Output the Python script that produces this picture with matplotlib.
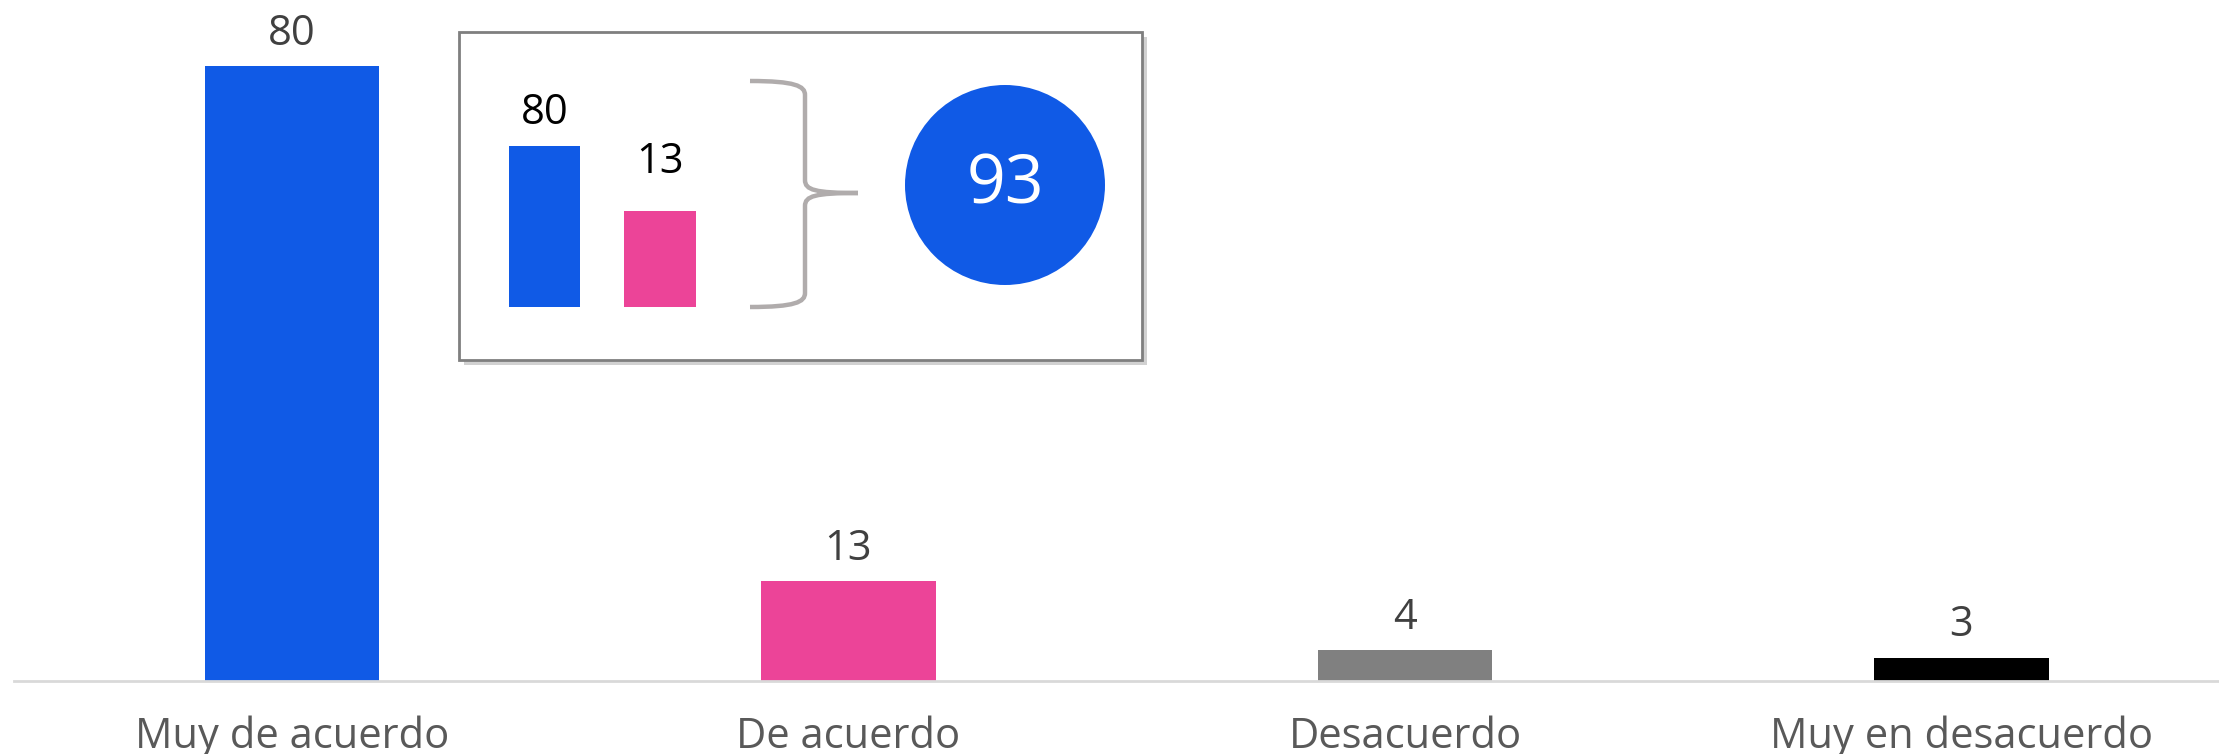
import matplotlib
matplotlib.use("Agg")
import matplotlib.pyplot as plt
from matplotlib.patches import Rectangle, Circle, PathPatch
from matplotlib.path import Path

plt.rcParams['font.family'] = ['Open Sans', 'DejaVu Sans']

# Datos
categorias = ["Muy de acuerdo", "De acuerdo", "Desacuerdo", "Muy en desacuerdo"]
valores = [80, 13, 4, 3]
colores = ["#105ae6", "#ec4498", "#808080", "#000000"]

# recuadro: suma de las dos primeras categorias
inset_valores = valores[:2]
inset_colores = colores[:2]
total_acuerdo = sum(inset_valores)

W, H = 2219, 754
fig = plt.figure(figsize=(W / 100, H / 100), dpi=100)


def px_box(x0, y0, x1, y1):
    # caja en pixeles (y hacia abajo) -> fraccion de figura
    return [x0 / W, 1 - y1 / H, (x1 - x0) / W, (y1 - y0) / H]


# --- grafico principal ---
ax = fig.add_axes(px_box(14, 0, W, 681))
x = range(len(categorias))
ax.bar(x, valores, width=0.313, color=colores, zorder=2)
ax.set_xlim(-0.4996, 3.4627)
ax.set_ylim(0, 88.6)
for s in ["top", "right", "left"]:
    ax.spines[s].set_visible(False)
ax.spines["bottom"].set_color("#d9d9d9")
ax.spines["bottom"].set_linewidth(2)
ax.set_yticks([])
ax.set_xticks([])

for i, v in enumerate(valores):
    ax.annotate(str(v), (i, v), xytext=(0, 15.5), textcoords="offset points",
                ha="center", va="baseline", fontsize=30, color="#404040")
    ax.annotate(categorias[i], (i, 0), xytext=(0, -48), textcoords="offset points",
                ha="center", va="baseline", fontsize=30, color="#595959")

# --- capa para el recuadro, llave y circulo (coordenadas en pixeles) ---
ov = fig.add_axes([0, 0, 1, 1], zorder=1)
ov.set_xlim(0, W)
ov.set_ylim(H, 0)
ov.axis("off")
ov.patch.set_alpha(0)

ov.add_patch(Rectangle((464, 37), 683, 328, facecolor="#9a9a9a", alpha=0.45,
                       edgecolor="none"))
ov.add_patch(Rectangle((459, 32), 683, 328, facecolor="white", edgecolor="#7f7f7f",
                       linewidth=2))

# llave
verts_sup = [(750, 81), (795, 81), (805, 86), (805, 95), (805, 180),
             (805, 190), (815, 193), (858, 193)]
codes = [Path.MOVETO, Path.CURVE4, Path.CURVE4, Path.CURVE4, Path.LINETO,
         Path.CURVE4, Path.CURVE4, Path.CURVE4]
verts_inf = [(858, 193), (815, 193), (805, 196), (805, 206), (805, 293),
             (805, 302), (795, 307), (750, 307)]
for vv in [verts_sup, verts_inf]:
    ov.add_patch(PathPatch(Path(vv, codes), facecolor="none", edgecolor="#b0acac",
                           linewidth=3.2, capstyle="butt"))

ov.add_patch(Circle((1005, 185), 100, facecolor="#105ae6", edgecolor="none"))
ov.text(1005, 186, str(total_acuerdo), ha="center", va="center", fontsize=49,
        color="white")

# barras del recuadro
ax_in = fig.add_axes(px_box(480, 100, 730, 307), zorder=2)
ax_in.bar(range(len(inset_valores)), inset_valores, width=0.615,
          color=inset_colores, bottom=1)
ax_in.set_yscale("log")
ax_in.set_ylim(1, 10 ** (207 / 84.1))
ax_in.set_xlim((480 - 544.5) / 115.5, (730 - 544.5) / 115.5)
ax_in.axis("off")
ax_in.patch.set_alpha(0)
for i, (v, pad) in enumerate(zip(inset_valores, [16, 27])):
    ax_in.annotate(str(v), (i, v + 1), xytext=(0, pad), textcoords="offset points",
                   ha="center", va="baseline", fontsize=30, color="black")

fig.savefig("out.png", dpi=100)
